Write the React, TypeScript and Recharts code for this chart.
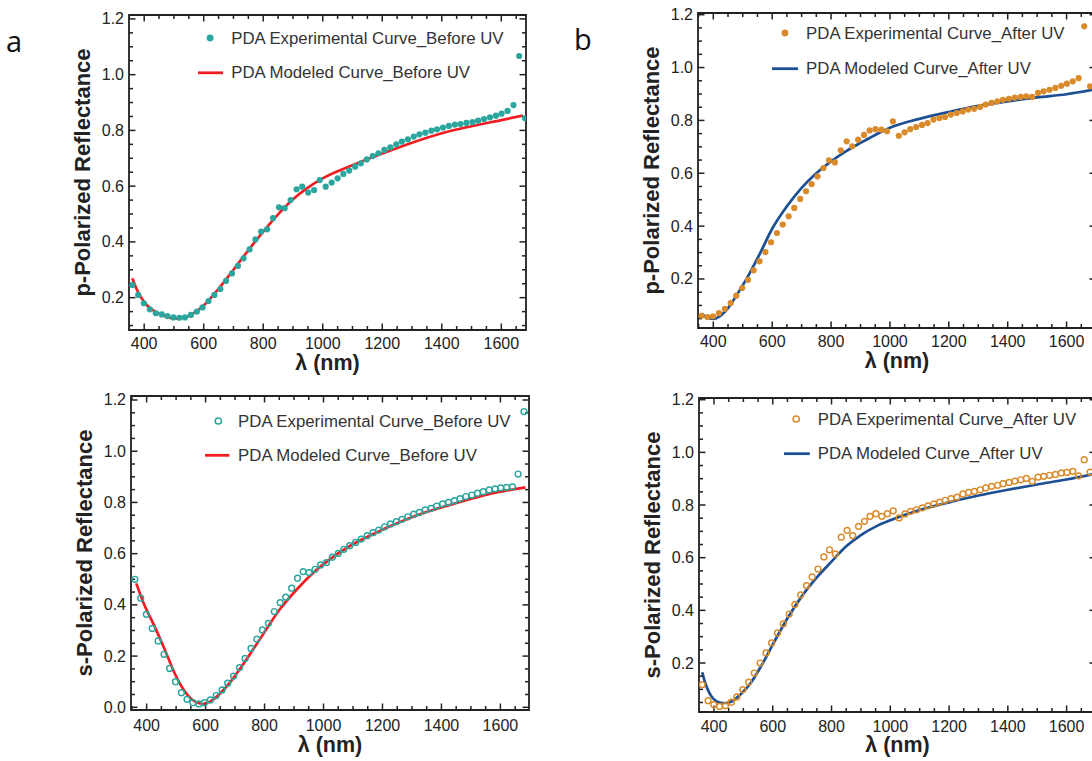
import { ComposedChart, Scatter, Line, XAxis, YAxis, Legend, Label, ReferenceArea } from 'recharts'

// wavelength grid of the measured points (nm)
const wavelengthNm = [
  360, 380, 399, 419, 439, 459, 478, 498, 518, 537, 557, 577, 596, 616, 636, 656, 675, 695, 715, 734,
  754, 774, 793, 813, 833, 853, 872, 892, 912, 931, 951, 971, 990, 1010, 1030, 1050, 1069, 1089, 1109, 1128,
  1148, 1168, 1187, 1207, 1227, 1247, 1266, 1286, 1306, 1325, 1345, 1365, 1384, 1404, 1424, 1444, 1463, 1483, 1503, 1522,
  1542, 1562, 1582, 1601, 1621, 1641, 1660, 1680,
]

const pExpBefore = [
  0.245, 0.21, 0.18, 0.158, 0.144, 0.14, 0.134, 0.129, 0.128, 0.129,
  0.138, 0.15, 0.165, 0.188, 0.21, 0.231, 0.26, 0.287, 0.314, 0.341,
  0.373, 0.409, 0.437, 0.445, 0.485, 0.524, 0.521, 0.55, 0.589, 0.598,
  0.577, 0.586, 0.622, 0.598, 0.613, 0.628, 0.644, 0.656, 0.67, 0.682,
  0.696, 0.708, 0.718, 0.73, 0.739, 0.75, 0.76, 0.768, 0.778, 0.786,
  0.792, 0.799, 0.804, 0.81, 0.816, 0.821, 0.823, 0.827, 0.83, 0.835,
  0.841, 0.847, 0.853, 0.86, 0.87, 0.891, 1.067, 0.844,
]

const sExpBefore = [
  0.5, 0.426, 0.363, 0.308, 0.259, 0.207, 0.152, 0.1, 0.057, 0.031,
  0.018, 0.013, 0.018, 0.029, 0.046, 0.068, 0.094, 0.122, 0.155, 0.191,
  0.23, 0.266, 0.302, 0.328, 0.374, 0.409, 0.43, 0.465, 0.504, 0.53,
  0.526, 0.539, 0.556, 0.565, 0.586, 0.601, 0.617, 0.631, 0.644, 0.657,
  0.67, 0.682, 0.692, 0.705, 0.716, 0.725, 0.734, 0.744, 0.754, 0.761,
  0.771, 0.777, 0.786, 0.794, 0.8, 0.807, 0.815, 0.823, 0.829, 0.836,
  0.842, 0.849, 0.853, 0.857, 0.859, 0.861, 0.911, 1.155,
]

const pExpAfter = [
  0.061, 0.056, 0.059, 0.071, 0.087, 0.109, 0.137, 0.166, 0.197, 0.233,
  0.267, 0.302, 0.339, 0.374, 0.406, 0.437, 0.469, 0.503, 0.532, 0.559,
  0.588, 0.62, 0.649, 0.641, 0.687, 0.721, 0.702, 0.727, 0.745, 0.762,
  0.767, 0.765, 0.759, 0.796, 0.742, 0.755, 0.767, 0.775, 0.783, 0.79,
  0.803, 0.809, 0.813, 0.822, 0.828, 0.834, 0.841, 0.844, 0.851, 0.86,
  0.866, 0.872, 0.878, 0.882, 0.886, 0.889, 0.891, 0.889, 0.904, 0.91,
  0.916, 0.923, 0.931, 0.939, 0.948, 0.96, 1.156, 0.929,
]

const sExpAfter = [
  0.118, 0.057, 0.042, 0.035, 0.038, 0.051, 0.071, 0.099, 0.127, 0.162,
  0.2, 0.238, 0.276, 0.314, 0.349, 0.386, 0.422, 0.459, 0.494, 0.527,
  0.557, 0.603, 0.63, 0.614, 0.678, 0.704, 0.684, 0.719, 0.738, 0.757,
  0.767, 0.757, 0.767, 0.778, 0.751, 0.766, 0.776, 0.782, 0.789, 0.797,
  0.804, 0.811, 0.818, 0.824, 0.83, 0.842, 0.848, 0.852, 0.858, 0.865,
  0.871, 0.875, 0.881, 0.886, 0.891, 0.896, 0.901, 0.89, 0.906, 0.909,
  0.913, 0.916, 0.922, 0.924, 0.928, 0.911, 0.972, 0.925,
]

const pModelBeforeNm = [360, 375, 390, 410, 440, 470, 500, 530, 560, 600, 650, 700, 750, 800, 850, 900, 950, 1000, 1100, 1200, 1300, 1400, 1500, 1600, 1672]
const pModelBefore = [0.27, 0.23, 0.2, 0.172, 0.148, 0.133, 0.125, 0.127, 0.14, 0.172, 0.232, 0.3, 0.37, 0.437, 0.499, 0.553, 0.595, 0.628, 0.675, 0.717, 0.756, 0.79, 0.815, 0.837, 0.853]

const sModelBeforeNm = [365, 390, 425, 460, 495, 530, 565, 590, 615, 650, 685, 730, 790, 850, 910, 970, 1085, 1205, 1320, 1440, 1560, 1685]
const sModelBefore = [0.484, 0.406, 0.321, 0.23, 0.133, 0.061, 0.022, 0.013, 0.022, 0.055, 0.1, 0.172, 0.276, 0.38, 0.461, 0.53, 0.627, 0.696, 0.751, 0.794, 0.832, 0.859]

const pModelAfterNm = [360, 380, 400, 420, 450, 480, 520, 560, 600, 650, 700, 750, 800, 850, 900, 950, 1000, 1100, 1200, 1300, 1400, 1500, 1600, 1700]
const pModelAfter = [0.07, 0.053, 0.049, 0.058, 0.09, 0.14, 0.215, 0.3, 0.39, 0.475, 0.545, 0.6, 0.645, 0.683, 0.715, 0.745, 0.772, 0.806, 0.832, 0.855, 0.872, 0.887, 0.899, 0.918]

const sModelAfterNm = [360, 370, 385, 400, 420, 440, 460, 490, 525, 560, 600, 650, 700, 750, 800, 850, 900, 950, 1000, 1100, 1200, 1300, 1400, 1500, 1600, 1700]
const sModelAfter = [0.165, 0.125, 0.085, 0.062, 0.05, 0.048, 0.054, 0.08, 0.124, 0.187, 0.27, 0.37, 0.455, 0.525, 0.585, 0.643, 0.686, 0.718, 0.742, 0.781, 0.81, 0.836, 0.858, 0.878, 0.897, 0.92]

const xMajorTicks = [400, 600, 800, 1000, 1200, 1400, 1600]
const xMinorTicks = [350, 400, 450, 500, 550, 600, 650, 700, 750, 800, 850, 900, 950, 1000, 1050, 1100, 1150, 1200, 1250, 1300, 1350, 1400, 1450, 1500, 1550, 1600, 1650, 1700]
const yMajorTicks = [0, 0.2, 0.4, 0.6, 0.8, 1.0, 1.2]
const yMinorTicks = [0, 0.05, 0.1, 0.15, 0.2, 0.25, 0.3, 0.35, 0.4, 0.45, 0.5, 0.55, 0.6, 0.65, 0.7, 0.75, 0.8, 0.85, 0.9, 0.95, 1.0, 1.05, 1.1, 1.15, 1.2]

const TEAL = '#2ba69e'
const RED = '#f01e23'
const ORANGE = '#d98b2c'
const BLUE = '#1c4f94'
const INK = '#222'
const FONT = '"Liberation Sans", Arial, Helvetica, sans-serif'

const toPoints = (xs: number[], ys: number[]) => xs.map((x, i) => ({ x, y: ys[i] }))

const isMajorX = (v: number) => xMajorTicks.includes(v)
const isMajorY = (v: number) => yMajorTicks.some((t) => Math.abs(t - v) < 1e-6)

interface PanelProps {
  frame: [number, number, number, number] // left, top, right, bottom on the page
  xDomain: [number, number]
  yDomain: [number, number]
  exp: { x: number; y: number }[]
  model: { x: number; y: number }[]
  dotColor: string
  lineColor: string
  hollow: boolean
  yTitle: string
  labels: [string, string]
  legend: { x0: number; x1: number; dotX: number; textX: number; y1: number; y2: number }
  tickGap: number
  titleGap: number
}

function Panel(p: PanelProps) {
  const [L, T, R, B] = p.frame
  const yw = 110
  const xh = 50
  const mt = 10
  const mr = 10
  const chartLeft = L - yw
  const chartTop = T - mt
  const width = R - L + yw + mr
  const height = B - T + mt + xh
  const [x0, x1] = p.xDomain
  const [y0, y1] = p.yDomain
  const xt = xMinorTicks.filter((v) => v >= x0 && v <= x1)
  const yt = yMinorTicks.filter((v) => v >= y0 - 1e-9 && v <= y1)

  // tick marks sit on the frame, pointing inward
  const bottomTicks = xt.map((v) => ({ x: v, y: y0 }))
  const topTicks = xt.map((v) => ({ x: v, y: y1 }))
  const leftTicks = yt.map((v) => ({ x: x0, y: v }))
  const rightTicks = yt.map((v) => ({ x: x1, y: v }))

  const vTick = (dir: number) => (s: any) => {
    const len = isMajorX(s.payload.x) ? 6.5 : 4
    return <line x1={s.cx} y1={s.cy} x2={s.cx} y2={s.cy + dir * len} stroke={INK} strokeWidth={1.5} />
  }
  const hTick = (dir: number) => (s: any) => {
    const len = isMajorY(s.payload.y) ? 6.5 : 4
    return <line x1={s.cx} y1={s.cy} x2={s.cx + dir * len} y2={s.cy} stroke={INK} strokeWidth={1.5} />
  }

  const xLabel = (t: any) => (
    <text x={t.x} y={t.y + p.tickGap} textAnchor="middle" dominantBaseline="central" fontSize={16} fill={INK} fontFamily={FONT}>
      {t.payload.value}
    </text>
  )
  const yLabel = (t: any) => (
    <text x={t.x - 5} y={t.y} textAnchor="end" dominantBaseline="central" fontSize={16} fill={INK} fontFamily={FONT}>
      {Number(t.payload.value).toFixed(1)}
    </text>
  )

  const lg = p.legend
  const ox = lg.x0 - 4
  const oy = lg.y1 - 16
  const renderLegend = () => (
    <svg width={360} height={lg.y2 - lg.y1 + 32} style={{ overflow: 'visible' }}>
      {p.hollow ? (
        <circle cx={lg.dotX - ox} cy={lg.y1 - oy} r={3.1} fill="none" stroke={p.dotColor} strokeWidth={1.5} />
      ) : (
        <circle cx={lg.dotX - ox} cy={lg.y1 - oy} r={3.4} fill={p.dotColor} />
      )}
      <text x={lg.textX - ox} y={lg.y1 - oy} dominantBaseline="central" fontSize={16.8} fill="#333" fontFamily={FONT}>
        {p.labels[0]}
      </text>
      <line x1={lg.x0 - ox} x2={lg.x1 - ox} y1={lg.y2 - oy} y2={lg.y2 - oy} stroke={p.lineColor} strokeWidth={2.8} />
      <text x={lg.textX - ox} y={lg.y2 - oy} dominantBaseline="central" fontSize={16.8} fill="#333" fontFamily={FONT}>
        {p.labels[1]}
      </text>
    </svg>
  )

  return (
    <div style={{ position: 'absolute', left: chartLeft, top: chartTop }}>
      <ComposedChart width={width} height={height} margin={{ top: mt, right: mr, bottom: 0, left: 0 }}>
        <XAxis
          xAxisId="b"
          type="number"
          dataKey="x"
          domain={p.xDomain}
          allowDataOverflow
          ticks={xMajorTicks.filter((v) => v >= x0 && v <= x1)}
          interval={0}
          height={xh}
          tickSize={0}
          tickMargin={0}
          tickLine={false}
          axisLine={false}
          tick={xLabel}
        >
          <Label
            content={(lp: any) => {
              const vb = lp.viewBox
              return (
                <text x={vb.x + vb.width / 2} y={vb.y + p.titleGap} textAnchor="middle" dominantBaseline="central" fontSize={21.5} fontWeight="bold" fill={INK} fontFamily={FONT}>
                  λ (nm)
                </text>
              )
            }}
          />
        </XAxis>
        <YAxis
          yAxisId="l"
          type="number"
          dataKey="y"
          domain={p.yDomain}
          allowDataOverflow
          ticks={yMajorTicks.filter((v) => v >= y0 - 1e-9 && v <= y1)}
          interval={0}
          width={yw}
          tickSize={0}
          tickMargin={0}
          tickLine={false}
          axisLine={false}
          tick={yLabel}
        >
          <Label
            content={(lp: any) => {
              const vb = lp.viewBox
              const cx = vb.x + vb.width - 47
              const cy = vb.y + vb.height / 2
              return (
                <text x={cx} y={cy} transform={`rotate(-90 ${cx} ${cy})`} textAnchor="middle" dominantBaseline="central" fontSize={22} fontWeight="bold" fill={INK} fontFamily={FONT}>
                  {p.yTitle}
                </text>
              )
            }}
          />
        </YAxis>
        <ReferenceArea
          xAxisId="b"
          yAxisId="l"
          x1={x0}
          x2={x1}
          y1={y0}
          y2={y1}
          fill="none"
          stroke={INK}
          strokeWidth={1.8}
          ifOverflow="visible"
        />
        <Scatter xAxisId="b" yAxisId="l" data={bottomTicks} isAnimationActive={false} shape={vTick(-1)} />
        <Scatter xAxisId="b" yAxisId="l" data={topTicks} isAnimationActive={false} shape={vTick(1)} />
        <Scatter xAxisId="b" yAxisId="l" data={leftTicks} isAnimationActive={false} shape={hTick(1)} />
        <Scatter xAxisId="b" yAxisId="l" data={rightTicks} isAnimationActive={false} shape={hTick(-1)} />
        <Scatter
          xAxisId="b"
          yAxisId="l"
          data={p.exp}
          isAnimationActive={false}
          shape={(s: any) =>
            p.hollow ? (
              <circle cx={s.cx} cy={s.cy} r={2.9} fill="none" stroke={p.dotColor} strokeWidth={1.45} />
            ) : (
              <circle cx={s.cx} cy={s.cy} r={3.1} fill={p.dotColor} />
            )
          }
        />
        <Line
          xAxisId="b"
          yAxisId="l"
          data={p.model}
          dataKey="y"
          type="monotone"
          stroke={p.lineColor}
          strokeWidth={2.7}
          dot={false}
          activeDot={false}
          isAnimationActive={false}
        />
        <Legend
          layout="horizontal"
          verticalAlign="middle"
          align="center"
          content={renderLegend}
          wrapperStyle={{ left: ox - chartLeft, top: oy - chartTop, width: 360, height: lg.y2 - lg.y1 + 32 }}
        />
      </ComposedChart>
    </div>
  )
}

export default function App() {
  return (
    <div style={{ position: 'absolute', left: 0, top: 0, width: 1092, height: 761, overflow: 'hidden', background: '#fff', fontFamily: FONT }}>
      <Panel
        frame={[129, 15, 526, 330]}
        xDomain={[349, 1683]}
        yDomain={[0.084, 1.214]}
        exp={toPoints(wavelengthNm, pExpBefore)}
        model={toPoints(pModelBeforeNm, pModelBefore)}
        dotColor={TEAL}
        lineColor={RED}
        hollow={false}
        yTitle="p-Polarized Reflectance"
        labels={['PDA Experimental Curve_Before UV', 'PDA Modeled Curve_Before UV']}
        legend={{ x0: 198.4, x1: 223.5, dotX: 210.5, textX: 231.6, y1: 37.7, y2: 72.5 }}
        tickGap={13.5}
        titleGap={33}
      />
      <Panel
        frame={[698, 13, 1096, 328]}
        xDomain={[348, 1700]}
        yDomain={[0.0146, 1.2064]}
        exp={toPoints(wavelengthNm, pExpAfter)}
        model={toPoints(pModelAfterNm, pModelAfter)}
        dotColor={ORANGE}
        lineColor={BLUE}
        hollow={false}
        yTitle="p-Polarized Reflectance"
        labels={['PDA Experimental Curve_After UV', 'PDA Modeled Curve_After UV']}
        legend={{ x0: 772.3, x1: 798.4, dotX: 785.2, textX: 806.4, y1: 33.3, y2: 69 }}
        tickGap={13.4}
        titleGap={33}
      />
      <Panel
        frame={[131, 396, 529, 710]}
        xDomain={[347, 1697]}
        yDomain={[-0.0105, 1.2156]}
        exp={toPoints(wavelengthNm, sExpBefore)}
        model={toPoints(sModelBeforeNm, sModelBefore)}
        dotColor={TEAL}
        lineColor={RED}
        hollow={true}
        yTitle="s-Polarized Reflectance"
        labels={['PDA Experimental Curve_Before UV', 'PDA Modeled Curve_Before UV']}
        legend={{ x0: 205.4, x1: 229.8, dotX: 218.7, textX: 238.5, y1: 420.7, y2: 455 }}
        tickGap={15}
        titleGap={34.5}
      />
      <Panel
        frame={[699, 398, 1096, 712]}
        xDomain={[349, 1700]}
        yDomain={[0.0139, 1.2065]}
        exp={toPoints(wavelengthNm, sExpAfter)}
        model={toPoints(sModelAfterNm, sModelAfter)}
        dotColor={ORANGE}
        lineColor={BLUE}
        hollow={true}
        yTitle="s-Polarized Reflectance"
        labels={['PDA Experimental Curve_After UV', 'PDA Modeled Curve_After UV']}
        legend={{ x0: 783.8, x1: 809.6, dotX: 796, textX: 817.6, y1: 419.3, y2: 454 }}
        tickGap={14.4}
        titleGap={33}
      />
      <svg width={1092} height={761} style={{ position: 'absolute', left: 0, top: 0, pointerEvents: 'none' }}>
        <text x={6} y={51.5} fontSize={29} fill="#111" fontFamily='"Open Sans", sans-serif'>a</text>
        <text x={574} y={50} fontSize={29} fill="#111" fontFamily='"Open Sans", sans-serif'>b</text>
      </svg>
    </div>
  )
}
